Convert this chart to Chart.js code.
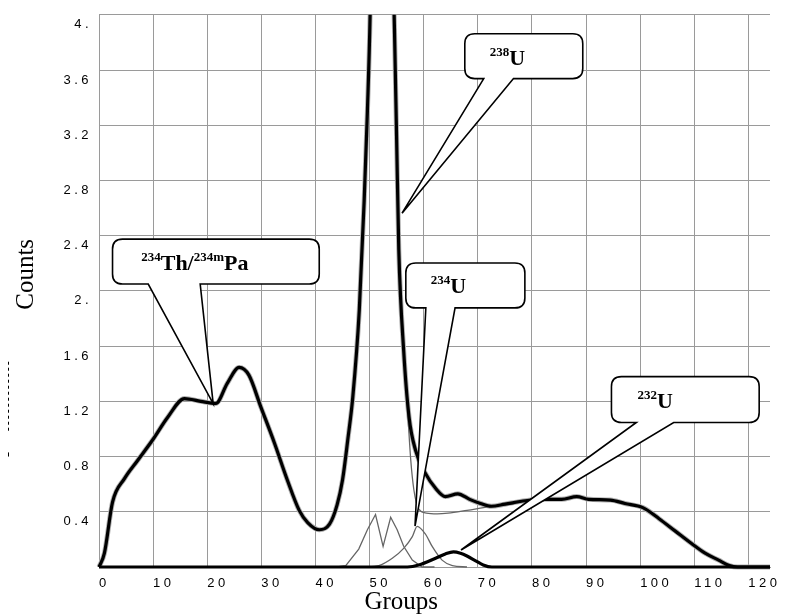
<!DOCTYPE html>
<html><head><meta charset="utf-8">
<script src="https://cdn.jsdelivr.net/npm/chart.js@4"></script>
<style>html,body{margin:0;padding:0;background:#fff}#wrap{width:797px;height:616px}</style>
</head><body><div id="wrap"><canvas id="c" width="797" height="616"></canvas></div>
<script>
// ---- tick labels ----
const groupTicks = [0, 10, 20, 30, 40, 50, 60, 70, 80, 90, 100, 110, 120];
const countTicks = [0, 0.4, 0.8, 1.2, 1.6, 2.0, 2.4, 2.8, 3.2, 3.6, 4.0];
const countTickLabels = ['', '0.4', '0.8', '1.2', '1.6', '2.', '2.4', '2.8', '3.2', '3.6', '4.'];

// ---- total spectrum (thick black) ----
const spectrumGroups = [0, 1, 2.5, 4.7, 7.1, 9.9, 12.7, 15.8, 18.8, 21.6, 23.7, 25.9, 27.7, 29.9, 32.4, 34.8, 37.0, 38.6, 40.7, 42.6, 44.0, 45.0, 46.0, 46.9, 48.1, 49.0, 49.6, 50.1, 51.0, 52.3, 53.4, 54.2, 54.6, 55.0, 55.4, 56.3, 57.3, 58.5, 60.3, 62.2, 64.0, 66.3, 68.5, 70.5, 72.5, 75.0, 78.8, 82.5, 85.5, 88.3, 90.5, 94.5, 97.2, 100.5, 103.5, 106.5, 109.5, 112.0, 114.5, 116.5, 118.0, 124];
const spectrumCounts = [0, 0.1, 0.47, 0.64, 0.77, 0.92, 1.085, 1.22, 1.20, 1.185, 1.33, 1.446, 1.39, 1.16, 0.90, 0.63, 0.41, 0.32, 0.27, 0.31, 0.45, 0.63, 0.93, 1.23, 1.86, 2.65, 3.3, 4.0, 6.3, 8.5, 6.5, 4.6, 3.9, 3.1, 2.3, 1.57, 1.085, 0.845, 0.68, 0.57, 0.51, 0.53, 0.49, 0.46, 0.44, 0.455, 0.48, 0.49, 0.49, 0.51, 0.49, 0.485, 0.46, 0.43, 0.35, 0.26, 0.17, 0.10, 0.05, 0.01, 0, 0];

// ---- 238U component (thin grey) ----
const u238Groups = [55.4, 56.3, 57.1, 57.6, 58.2, 59.1, 60.5, 62.5, 64.5, 68, 72, 76, 78];
const u238Counts = [2.3, 1.57, 1.085, 0.78, 0.556, 0.42, 0.39, 0.385, 0.39, 0.41, 0.435, 0.455, 0.47];

// ---- doublet component (thin grey zigzag) ----
const doubletGroups = [44, 45.6, 48, 49.6, 51.1, 52.5, 53.9, 55.1, 56.3, 57.9, 59.7, 62];
const doubletCounts = [0, 0.01, 0.13, 0.27, 0.38, 0.15, 0.36, 0.27, 0.15, 0.05, 0, 0];

// ---- 234U component (thin grey) ----
const u234Groups = [49, 51.7, 54.2, 56.3, 57.9, 58.8, 60.3, 61.6, 63.4, 65.3, 68];
const u234Counts = [0, 0.01, 0.063, 0.135, 0.22, 0.295, 0.24, 0.147, 0.05, 0.01, 0];

// ---- 232U component (thick black) ----
const u232Groups = [0, 57, 59.1, 62.2, 64, 65.5, 66.8, 68, 69.6, 71, 72.6, 124];
const u232Counts = [0, 0, 0.014, 0.063, 0.095, 0.11, 0.10, 0.08, 0.045, 0.015, 0, 0];

// ---- callouts (data units) ----
const callouts = [
  { parts: [['238', true], ['U', false]], box: [67.6, 3.863, 89.4, 3.538], base: [71.1, 76.6], tip: [56.0, 2.563], text: [72.2, 3.639] },
  { parts: [['234', true], ['Th/', false], ['234m', true], ['Pa', false]], box: [2.5, 2.375, 40.7, 2.05], base: [9.1, 18.7], tip: [21.1, 1.184], text: [7.8, 2.152] },
  { parts: [['234', true], ['U', false]], box: [56.7, 2.202, 78.7, 1.877], base: [60.4, 65.8], tip: [58.4, 0.296], text: [61.3, 1.986] },
  { parts: [['232', true], ['U', false]], box: [94.7, 1.379, 122.0, 1.047], base: [99.3, 106.2], tip: [66.9, 0.123], text: [99.5, 1.155] }
];

const xy = (gs, cs) => gs.map((g, i) => ({ x: g, y: cs[i] }));
const CLIP = { left: 3, top: 0, right: 0, bottom: 3 };

const spacingPlugin = {
  id: 'spacing',
  beforeDraw(chart) { chart.ctx.letterSpacing = '3.5px'; },
  beforeDatasetsDraw(chart) { chart.ctx.letterSpacing = '0px'; }
};

function drawCallout(ctx, sx, sy, c) {
  const x1 = sx.getPixelForValue(c.box[0]), y1 = sy.getPixelForValue(c.box[1]);
  const x2 = sx.getPixelForValue(c.box[2]), y2 = sy.getPixelForValue(c.box[3]);
  const b1 = sx.getPixelForValue(c.base[0]), b2 = sx.getPixelForValue(c.base[1]);
  const tx = sx.getPixelForValue(c.tip[0]), ty = sy.getPixelForValue(c.tip[1]);
  const r = 10;
  ctx.save();
  ctx.beginPath();
  ctx.moveTo(x1 + r, y1);
  ctx.lineTo(x2 - r, y1);
  ctx.quadraticCurveTo(x2, y1, x2, y1 + r);
  ctx.lineTo(x2, y2 - r);
  ctx.quadraticCurveTo(x2, y2, x2 - r, y2);
  ctx.lineTo(b2, y2);
  ctx.lineTo(tx, ty);
  ctx.lineTo(b1, y2);
  ctx.lineTo(x1 + r, y2);
  ctx.quadraticCurveTo(x1, y2, x1, y2 - r);
  ctx.lineTo(x1, y1 + r);
  ctx.quadraticCurveTo(x1, y1, x1 + r, y1);
  ctx.closePath();
  ctx.fillStyle = '#fff';
  ctx.fill();
  ctx.lineWidth = 1.6;
  ctx.strokeStyle = '#000';
  ctx.lineJoin = 'miter';
  ctx.stroke();
  let px = sx.getPixelForValue(c.text[0]);
  const base = sy.getPixelForValue(c.text[1]);
  ctx.fillStyle = '#000';
  ctx.textAlign = 'left';
  ctx.textBaseline = 'alphabetic';
  ctx.letterSpacing = '0px';
  for (const [t, sup] of c.parts) {
    ctx.font = sup ? 'bold 13px "Liberation Serif"' : 'bold 22px "Liberation Serif"';
    ctx.fillText(t, px, sup ? base - 9 : base);
    px += ctx.measureText(t).width;
  }
  ctx.restore();
}

const overlayPlugin = {
  id: 'overlay',
  afterDraw(chart) {
    const ctx = chart.ctx, sx = chart.scales.x, sy = chart.scales.y;
    ctx.save();
    ctx.letterSpacing = '0px';
    for (const c of callouts) drawCallout(ctx, sx, sy, c);
    ctx.fillStyle = '#000';
    ctx.font = '25px "Liberation Serif"';
    ctx.textAlign = 'center';
    ctx.textBaseline = 'alphabetic';
    ctx.fillText('Groups', sx.getPixelForValue(55.85), 609);
    ctx.save();
    ctx.translate(chart.chartArea.left - 66, sy.getPixelForValue(2.12));
    ctx.rotate(-Math.PI / 2);
    ctx.fillText('Counts', 0, 0);
    ctx.restore();
    ctx.strokeStyle = '#000';
    ctx.lineWidth = 1;
    ctx.setLineDash([3, 3]);
    const lx = chart.chartArea.left - 90.5;
    ctx.beginPath();
    ctx.moveTo(lx, sy.getPixelForValue(1.487));
    ctx.lineTo(lx, sy.getPixelForValue(0.975));
    ctx.stroke();
    ctx.setLineDash([]);
    ctx.beginPath();
    ctx.moveTo(lx, sy.getPixelForValue(0.83));
    ctx.lineTo(lx, sy.getPixelForValue(0.80));
    ctx.stroke();
    ctx.restore();
  }
};

new Chart(document.getElementById('c'), {
  type: 'line',
  data: {
    datasets: [
      { label: 'Spectrum', data: xy(spectrumGroups, spectrumCounts), borderColor: '#000', borderWidth: 3.2, cubicInterpolationMode: 'monotone', pointRadius: 0, order: 0, clip: CLIP },
      { label: '232U', data: xy(u232Groups, u232Counts), borderColor: '#000', borderWidth: 3.2, cubicInterpolationMode: 'monotone', pointRadius: 0, order: 1, clip: CLIP },
      { label: '238U', data: xy(u238Groups, u238Counts), borderColor: '#666', borderWidth: 1.3, cubicInterpolationMode: 'monotone', pointRadius: 0, order: 2, clip: CLIP },
      { label: '234U', data: xy(u234Groups, u234Counts), borderColor: '#666', borderWidth: 1.3, cubicInterpolationMode: 'monotone', pointRadius: 0, order: 3, clip: CLIP },
      { label: 'Doublet', data: xy(doubletGroups, doubletCounts), borderColor: '#666', borderWidth: 1.3, tension: 0, pointRadius: 0, order: 4, clip: CLIP },
      { label: 'Fit', data: xy(spectrumGroups, spectrumCounts), borderColor: '#b0b0b0', borderWidth: 5, cubicInterpolationMode: 'monotone', pointRadius: 0, order: 5, clip: CLIP }
    ]
  },
  options: {
    responsive: false,
    animation: false,
    devicePixelRatio: 1,
    layout: { padding: { top: 13, right: 27, left: 0, bottom: 0 } },
    plugins: { legend: { display: false }, tooltip: { enabled: false } },
    scales: {
      x: {
        type: 'linear', min: 0, max: 124,
        afterBuildTicks: s => { s.ticks = groupTicks.map(v => ({ value: v })); },
        afterFit: s => { s.height = 49; },
        ticks: { align: 'start', padding: 9, color: '#000', font: { family: '"Liberation Sans", Arial', size: 13 }, maxRotation: 0, autoSkip: false,
          callback: v => String(v) },
        grid: { color: '#9a9a9a', lineWidth: 1, drawTicks: false },
        border: { color: '#9a9a9a' },
        title: { display: false }
      },
      y: {
        min: 0, max: 4,
        afterBuildTicks: s => { s.ticks = countTicks.map(v => ({ value: v })); },
        afterFit: s => { s.width = 99; },
        ticks: { labelOffset: 10, padding: 7, color: '#000', font: { family: '"Liberation Sans", Arial', size: 13 }, autoSkip: false,
          callback: (v, i) => countTickLabels[i] },
        grid: { color: '#9a9a9a', lineWidth: 1, drawTicks: false },
        border: { color: '#9a9a9a' },
        title: { display: false }
      }
    }
  },
  plugins: [spacingPlugin, overlayPlugin]
});
</script>
</body></html>
